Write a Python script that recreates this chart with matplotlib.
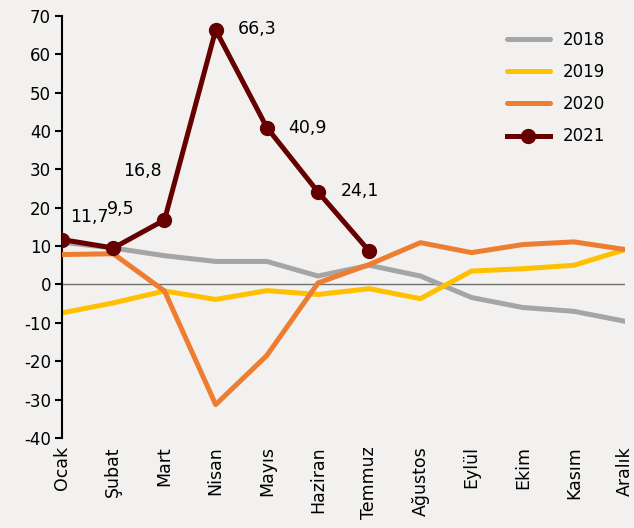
import matplotlib
matplotlib.use("Agg")
import matplotlib.pyplot as plt

months = ["Ocak", "Şubat", "Mart", "Nisan", "Mayıs", "Haziran", "Temmuz",
          "Ağustos", "Eylül", "Ekim", "Kasım", "Aralık"]
s2018 = [11.0, 9.5, 7.5, 6.0, 6.0, 2.2, 5.0, 2.2, -3.4, -6.0, -7.0, -9.6]
s2019 = [-7.4, -4.8, -1.7, -3.9, -1.6, -2.6, -1.1, -3.7, 3.5, 4.1, 5.0, 9.1]
s2020 = [7.8, 8.0, -1.7, -31.3, -18.5, 0.4, 5.2, 10.9, 8.3, 10.4, 11.1, 9.1]
s2021 = [11.7, 9.5, 16.8, 66.3, 40.9, 24.1, 8.7]
labels2021 = ["11,7", "9,5", "16,8", "66,3", "40,9", "24,1", None]
yticks = list(range(-40, 71, 10))

bg = "#F2F1EF"
fig = plt.figure(figsize=(6.34, 5.28), dpi=100, facecolor=bg)
ax = fig.add_axes([0.098, 0.1705, 0.888, 0.7995], facecolor=bg)

x = list(range(len(months)))
ax.axhline(0, color="#707070", lw=1.0, zorder=1)
ax.plot(x, s2018, color="#A5A5A5", lw=3.6, label="2018", zorder=2, solid_capstyle="round")
ax.plot(x, s2019, color="#FFC000", lw=3.6, label="2019", zorder=2, solid_capstyle="round")
ax.plot(x, s2020, color="#ED7D31", lw=3.6, label="2020", zorder=3, solid_capstyle="round")
ax.plot(range(len(s2021)), s2021, color="#660000", lw=3.6, marker="o", ms=10,
        label="2021", zorder=4)

offsets = [(5.8, 16), (-4.3, 28), (-30, 35), (16, 0.5), (15, 0), (16, 0.5)]
for i, (v, lab) in enumerate(zip(s2021, labels2021)):
    if lab is None:
        continue
    dx, dy = offsets[i]
    ax.annotate(lab, (i, v), xytext=(dx, dy), textcoords="offset points",
                fontsize=12.5, ha="left", va="center", color="black")

ax.set_xlim(0, 11)
ax.set_ylim(-40, 70)
ax.set_yticks(yticks)
ax.set_yticklabels([str(t) for t in yticks], fontsize=12)
ax.set_xticks(x)
ax.set_xticklabels(months, rotation=90, fontsize=12.5)
ax.tick_params(axis="x", length=0, pad=6)
ax.tick_params(axis="y", length=5, width=1.5, direction="out", pad=3)
for s in ["top", "right", "bottom"]:
    ax.spines[s].set_visible(False)
ax.spines["left"].set_linewidth(1.5)

ax.legend(loc="upper right", frameon=False, fontsize=12, handlelength=2.6,
          labelspacing=0.85, bbox_to_anchor=(0.992, 1.0))

fig.savefig("out.png", dpi=100, facecolor=bg)
